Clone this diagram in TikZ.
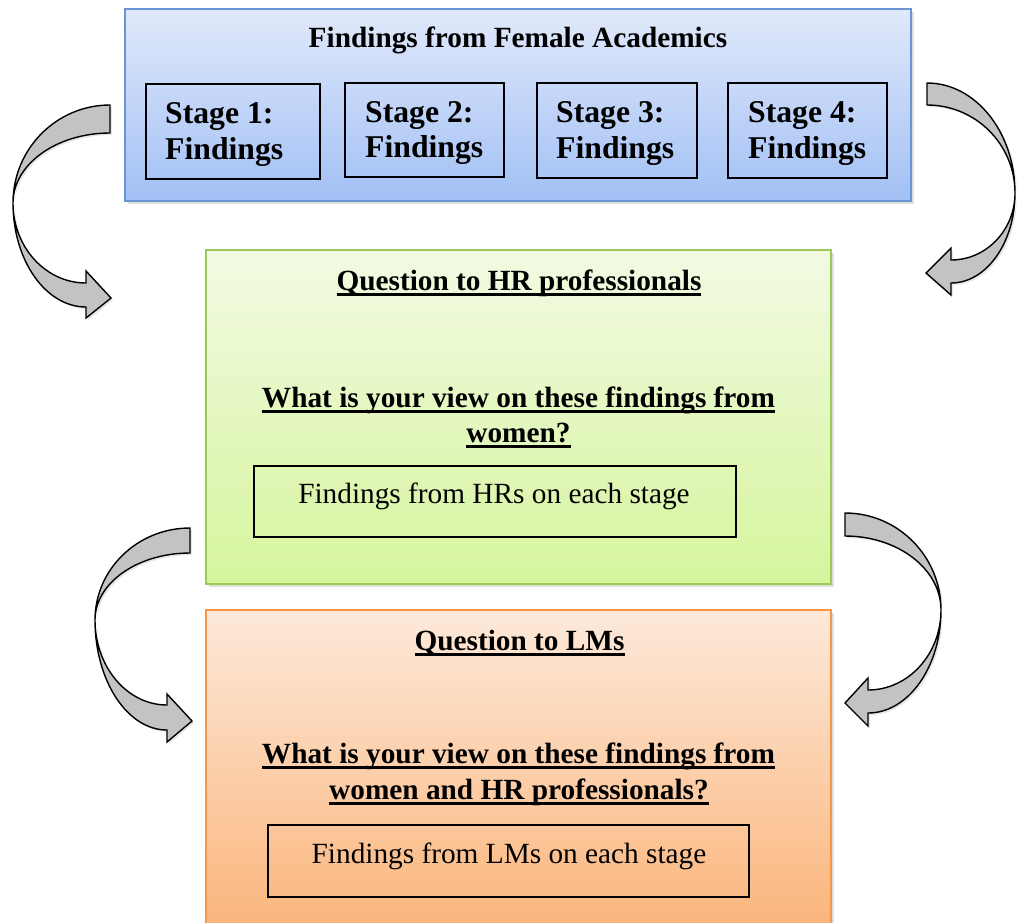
\documentclass[tikz,border=0pt]{standalone}
\usepackage{fontspec}
\setmainfont{Liberation Serif}
\usetikzlibrary{shadows}

% thick underline that sits a little below the baseline
\newcommand\thickul[1]{\setbox0\hbox{#1}\rlap{\rule[-5.6pt]{\wd0}{2.6pt}}\box0}

\definecolor{blueTop}{HTML}{E1E9FB}
\definecolor{blueBot}{HTML}{A2C0F5}
\definecolor{blueLine}{HTML}{6A94D4}
\definecolor{greenTop}{HTML}{F2FAE3}
\definecolor{greenBot}{HTML}{D6F59D}
\definecolor{greenLine}{HTML}{9CC95A}
\definecolor{orangeTop}{HTML}{FDE9DA}
\definecolor{orangeBot}{HTML}{FBB378}
\definecolor{orangeLine}{HTML}{F79646}
\definecolor{arrowFill}{HTML}{C3C3C3}

\tikzset{
  panel/.style={rectangle, inner sep=0pt, outer sep=0pt, line width=1.5pt,
    drop shadow={shadow xshift=3pt, shadow yshift=-3pt, opacity=0.25}},
  bluepanel/.style={panel, draw=blueLine, top color=blueTop, bottom color=blueBot},
  greenpanel/.style={panel, draw=greenLine, top color=greenTop, bottom color=greenBot},
  orangepanel/.style={panel, draw=orangeLine, top color=orangeTop, bottom color=orangeBot},
  stagebox/.style={rectangle, draw=black, line width=1.3pt, inner sep=0pt},
  findbox/.style={rectangle, draw=black, line width=1.4pt, inner sep=0pt},
  heading/.style={inner sep=0pt, anchor=base, font=\fontsize{29.3}{34}\selectfont\bfseries},
  stagetext/.style={inner sep=0pt, anchor=base west, font=\fontsize{31.7}{36}\selectfont\bfseries},
  plaintext/.style={inner sep=0pt, anchor=base, font=\fontsize{29.3}{34}\selectfont},
  bentarrow/.style={draw=black, line width=1.4pt, fill=arrowFill, line join=miter,
    drop shadow={shadow xshift=2pt, shadow yshift=-2pt, opacity=0.2}}
}

\begin{document}
\begin{tikzpicture}[x=1pt, y=-1pt]
\useasboundingbox (0,0) rectangle (1017,922);
\clip (0,0) rectangle (1017,922);

% ---- top panel: findings from female academics
\node[bluepanel, minimum width=786pt, minimum height=192pt] (female) at (518,105) {};
\node[heading] (femaleT) at (518,47) {Findings from Female Academics};

\node[stagebox, minimum width=174pt, minimum height=95pt] (s1) at (233,131.5) {};
\node[stagebox, minimum width=159pt, minimum height=94pt] (s2) at (424.5,130) {};
\node[stagebox, minimum width=160pt, minimum height=95pt] (s3) at (617,130.5) {};
\node[stagebox, minimum width=159pt, minimum height=95pt] (s4) at (807.5,130.5) {};

\node[stagetext] (s1a) at (165,123) {Stage 1:};
\node[stagetext] (s1b) at (165,159) {Findings};
\node[stagetext] (s2a) at (365,122) {Stage 2:};
\node[stagetext] (s2b) at (365,157.5) {Findings};
\node[stagetext] (s3a) at (556,122) {Stage 3:};
\node[stagetext] (s3b) at (556,158) {Findings};
\node[stagetext] (s4a) at (748,122) {Stage 4:};
\node[stagetext] (s4b) at (748,158) {Findings};

% ---- middle panel: HR professionals
\node[greenpanel, minimum width=625pt, minimum height=334pt] (hr) at (518.5,417) {};
\node[heading] (hrT) at (519,290) {\thickul{Question to HR professionals}};
\node[heading] (hrQ1) at (518.5,407) {\thickul{What is your view on these findings from}};
\node[heading] (hrQ2) at (518.5,442) {\thickul{women?}};
\node[findbox, minimum width=482pt, minimum height=71pt] (hrBox) at (495,501.5) {};
\node[plaintext] (hrF) at (494,503) {Findings from HRs on each stage};

% ---- bottom panel: line managers
\node[orangepanel, minimum width=625pt, minimum height=330pt] (lm) at (518.5,775) {};
\node[heading] (lmT) at (519.5,650) {\thickul{Question to LMs}};
\node[heading] (lmQ1) at (518.5,763) {\thickul{What is your view on these findings from}};
\node[heading] (lmQ2) at (519,799) {\thickul{women and HR professionals?}};
\node[findbox, minimum width=481pt, minimum height=72pt] (lmBox) at (508.5,861) {};
\node[plaintext] (lmF) at (509,863) {Findings from LMs on each stage};

% ---- curved block arrows
% top left, bulging to the left
\draw[bentarrow] (110,105)
  arc[start angle=270, end angle=180, x radius=97, y radius=98]
  arc[start angle=180, end angle=90, x radius=73, y radius=104]
  -- (86,318) -- (111,298) -- (86,271) -- (86,283)
  arc[start angle=90, end angle=180, x radius=73, y radius=80]
  arc[start angle=180, end angle=270, x radius=97, y radius=70]
  -- cycle;

% top right, bulging to the right
\draw[bentarrow] (927,83)
  arc[start angle=270, end angle=360, x radius=88, y radius=110]
  arc[start angle=0, end angle=90, x radius=64, y radius=90]
  -- (951,295) -- (926,273) -- (951,248) -- (951,260)
  arc[start angle=90, end angle=0, x radius=64, y radius=67]
  arc[start angle=360, end angle=270, x radius=88, y radius=88]
  -- cycle;

% middle left, bulging to the left
\draw[bentarrow] (190,528)
  arc[start angle=270, end angle=180, x radius=95, y radius=92]
  arc[start angle=180, end angle=90, x radius=72, y radius=110]
  -- (167,742) -- (192,721) -- (167,694) -- (167,705)
  arc[start angle=90, end angle=180, x radius=72, y radius=85]
  arc[start angle=180, end angle=270, x radius=95, y radius=67]
  -- cycle;

% middle right, bulging to the right
\draw[bentarrow] (845,513)
  arc[start angle=270, end angle=360, x radius=96, y radius=97]
  arc[start angle=0, end angle=90, x radius=73, y radius=103]
  -- (868,726) -- (845,703) -- (868,678) -- (868,690)
  arc[start angle=90, end angle=0, x radius=73, y radius=80]
  arc[start angle=360, end angle=270, x radius=96, y radius=74]
  -- cycle;
\end{tikzpicture}
\end{document}
